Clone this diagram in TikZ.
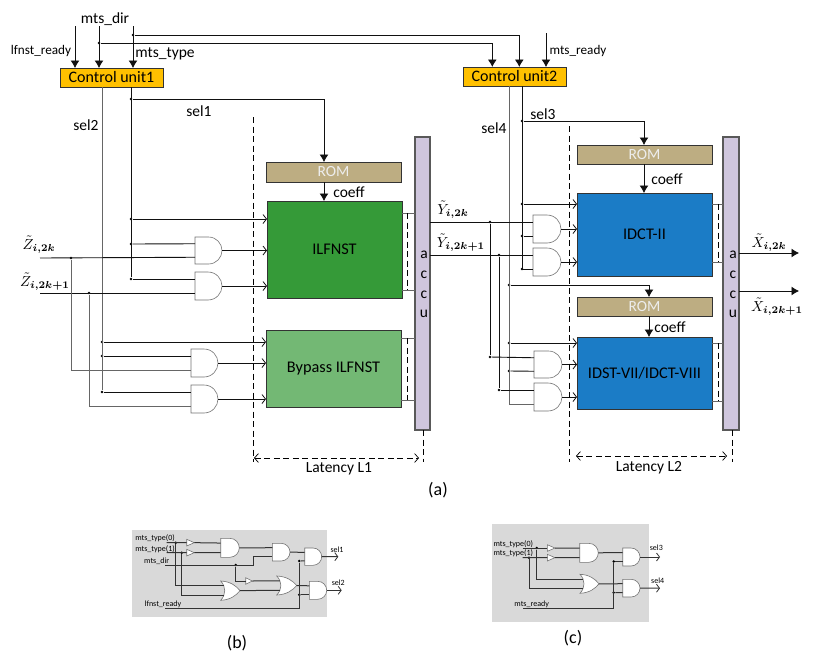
\documentclass[tikz,border=0pt]{standalone}
\usepackage{amsmath}
\usepackage{bm}
\usepackage{fontspec}
\setmainfont{Carlito}
\usetikzlibrary{arrows.meta,calc}
\definecolor{romfill}{HTML}{BDAD82}
\definecolor{cufill}{HTML}{FFC000}
\definecolor{accufill}{HTML}{CFC6DD}
\definecolor{ilffill}{HTML}{359A38}
\definecolor{bypfill}{HTML}{73B874}
\definecolor{dctfill}{HTML}{1B7CC6}
\definecolor{edge}{HTML}{333333}
\definecolor{wire}{HTML}{111111}
\definecolor{panel}{HTML}{D9D9D9}
\tikzset{
  sig/.style={draw=wire,line width=0.9pt},
  greysig/.style={draw=black!60,line width=0.9pt},
  solidtip/.style={sig,-{Latex[length=7.5pt,width=9pt]}},
  opentip/.style={sig,-{Straight Barb[length=3.5pt,width=9pt,line width=0.8pt]}},
  dashline/.style={draw=black,line width=0.7pt,dash pattern=on 6pt off 3.5pt},
  spanarrow/.style={dashline,{Straight Barb[length=4pt,width=9pt,line width=0.7pt,sep=0pt]}-{Straight Barb[length=4pt,width=9pt,line width=0.7pt]}},
  jdot/.style={circle,fill=black,inner sep=0pt,minimum size=2.8pt},
  corner/.style={draw=edge,line width=0.8pt,inner sep=0pt,outer sep=0pt,rectangle},
  unitbox/.style={corner,fill=cufill,font=\fontsize{16}{18}\selectfont},
  rombox/.style={corner,fill=romfill,text=white!93!black,font=\fontsize{15.5}{18}\selectfont},
  blockbox/.style={corner,font=\fontsize{16.3}{18}\selectfont},
  accubox/.style={draw=black!65,line width=1.1pt,fill=accufill,inner sep=0pt,outer sep=0pt,rectangle},
  gatebox/.style={rectangle,inner sep=0pt,outer sep=0pt},
  lab/.style={inner sep=0pt,font=\fontsize{15.5}{18}\selectfont},
  smalllab/.style={inner sep=0pt,font=\fontsize{13.2}{15}\selectfont},
  tinylab/.style={inner sep=0pt,font=\fontsize{8}{9}\selectfont},
  caplab/.style={inner sep=0pt,font=\fontsize{18}{20}\selectfont},
  mathlab/.style={inner sep=0pt,scale=1.45},
  gateline/.style={draw=black!55,line width=0.6pt,fill=white},
  fineline/.style={draw=black!80,line width=1pt},
  finetip/.style={fineline,-{Straight Barb[length=3pt,width=8pt,line width=0.8pt]}},
}
% AND gate: name, left, top, right, bottom; defines name-a, name-b and name-o
\newcommand{\andgate}[5]{%
  \node[gatebox,minimum width={(#4)-(#2)},minimum height={(#5)-(#3)}] (#1) at ({((#2)+(#4))/2},{((#3)+(#5))/2}) {};
  \draw[gateline] (#2,#3) -- ({(#4)-((#5)-(#3))/2},#3) .. controls ({(#4)-((#5)-(#3))/5},#3) and (#4,{(#3)+((#5)-(#3))/4}) .. (#4,{((#3)+(#5))/2}) .. controls (#4,{(#3)+3*((#5)-(#3))/4}) and ({(#4)-((#5)-(#3))/5},#5) .. ({(#4)-((#5)-(#3))/2},#5) -- (#2,#5) -- cycle;
  \coordinate (#1-a) at (#2,{(#3)+((#5)-(#3))/4});
  \coordinate (#1-b) at (#2,{(#3)+3*((#5)-(#3))/4});
  \coordinate (#1-o) at (#4,{((#3)+(#5))/2});
}
% OR gate: same arguments, with a curved back edge
\newcommand{\orgate}[5]{%
  \node[gatebox,minimum width={(#4)-(#2)},minimum height={(#5)-(#3)}] (#1) at ({((#2)+(#4))/2},{((#3)+(#5))/2}) {};
  \draw[gateline] (#2,#3) .. controls ({(#2)+0.5*((#4)-(#2))},{(#3)+0.02*((#5)-(#3))}) and ({(#2)+0.8*((#4)-(#2))},{(#3)+0.25*((#5)-(#3))}) .. (#4,{((#3)+(#5))/2}) .. controls ({(#2)+0.8*((#4)-(#2))},{(#3)+0.75*((#5)-(#3))}) and ({(#2)+0.5*((#4)-(#2))},{(#3)+0.98*((#5)-(#3))}) .. (#2,#5) .. controls ({(#2)+0.28*((#4)-(#2))},{(#3)+0.7*((#5)-(#3))}) and ({(#2)+0.28*((#4)-(#2))},{(#3)+0.3*((#5)-(#3))}) .. cycle;
  \coordinate (#1-a) at ({(#2)+0.16*((#4)-(#2))},{(#3)+((#5)-(#3))/4});
  \coordinate (#1-b) at ({(#2)+0.16*((#4)-(#2))},{(#3)+3*((#5)-(#3))/4});
  \coordinate (#1-o) at (#4,{((#3)+(#5))/2});
}
% Buffer triangle: name, left, top, right, bottom; defines name-i and name-o
\newcommand{\bufgate}[5]{%
  \node[gatebox,minimum width={(#4)-(#2)},minimum height={(#5)-(#3)}] (#1) at ({((#2)+(#4))/2},{((#3)+(#5))/2}) {};
  \draw[gateline] (#2,#3) -- (#4,{((#3)+(#5))/2}) -- (#2,#5) -- cycle;
  \coordinate (#1-i) at (#2,{((#3)+(#5))/2});
  \coordinate (#1-o) at (#4,{((#3)+(#5))/2});
}
% Box placed by its corners: style, name, left, top, right, bottom, text
\newcommand{\cornerbox}[7]{%
  \node[#1,minimum width={(#5)-(#3)},minimum height={(#6)-(#4)},align=center] (#2) at ({((#3)+(#5))/2},{((#4)+(#6))/2}) {#7};
}
\begin{document}
\begin{tikzpicture}[x=1pt,y=-1pt]
\useasboundingbox (0,0) rectangle (830,659);

% ---- control units, memories and transform blocks ----
\cornerbox{unitbox}{cuA}{60}{68}{163}{87}{Control unit1}
\cornerbox{unitbox}{cuB}{463}{67}{566}{86}{Control unit2}
\cornerbox{rombox}{romA}{266}{162}{401}{182}{ROM}
\cornerbox{rombox}{romB}{577}{145}{712}{164}{ROM}
\cornerbox{rombox}{romC}{577}{297}{712}{316}{ROM}
\cornerbox{blockbox,fill=ilffill}{ilf}{267}{201}{402}{298}{ILFNST}
\cornerbox{blockbox,fill=bypfill}{byp}{266}{330}{401}{407}{Bypass ILFNST}
\cornerbox{blockbox,fill=dctfill}{dct}{577}{193}{712}{276}{IDCT-II}
\cornerbox{blockbox,fill=dctfill}{dst}{577}{337}{712}{409}{IDST-VII/IDCT-VIII}
\cornerbox{accubox}{accA}{415}{137}{430}{430}{}
\cornerbox{accubox}{accB}{723}{137}{739}{430}{}
\foreach \ch/\yy in {a/255,c/275,c/295,u/314}{
  \node[lab] (accA\yy) at (424,\yy) {\ch};
  \node[lab] (accB\yy) at (733,\yy) {\ch};
}

% ---- AND gates in front of the blocks ----
\andgate{gA}{195}{237}{222}{264}
\andgate{gB}{195}{272}{222}{300}
\andgate{gC}{191}{349}{218}{377}
\andgate{gD}{191}{385}{218}{413}
\andgate{gE}{533}{215}{561}{243}
\andgate{gF}{533}{248}{561}{276}
\andgate{gG}{534}{351}{562}{378}
\andgate{gH}{534}{383}{562}{411}

% ---- junction points ----
\node[jdot] (jdir) at (99,43) {};
\node[jdot] (jtype) at (133,35) {};
\node[jdot] (jrom) at (131,99) {};
\node[jdot] (ja1) at (131,219) {};
\node[jdot] (ja2) at (131,244) {};
\node[jdot] (ja3) at (131,279) {};
\node[jdot] (jb1) at (102,342) {};
\node[jdot] (jb2) at (102,356) {};
\node[jdot] (jb3) at (102,392) {};
\node[jdot] (jz0) at (71,258) {};
\node[jdot] (jz1) at (89,293) {};
\node[jdot] (jc0) at (522,121) {};
\node[jdot] (jc1) at (522,204) {};
\node[jdot] (jc2) at (522,236) {};
\node[jdot] (jc3) at (522,269) {};
\node[jdot] (jd0) at (509,285) {};
\node[jdot] (jd1) at (509,343) {};
\node[jdot] (jd2) at (509,371) {};
\node[jdot] (jy0) at (490,222) {};
\node[jdot] (jy1) at (499,255) {};
\node[jdot] (jy2) at (490,357) {};
\node[jdot] (jy3) at (499,390) {};

% ---- free ends of signals ----
\coordinate (inrdy) at (75,26);
\coordinate (indir) at (99,26);
\coordinate (intype) at (133,26);
\coordinate (inmts) at (546,33);
\coordinate (inz0) at (40,258);
\coordinate (inz1) at (40,293);
\coordinate (outx0) at (799,253);
\coordinate (outx1) at (799,291);
\coordinate (cuBa) at (492.3,67);
\coordinate (cuBb) at (519.3,67);
\coordinate (romAin) at (324,162);
\coordinate (romAout) at (324,182);
\coordinate (ilfin) at (324,201);
\coordinate (romBin) at (644,145);
\coordinate (romBout) at (644,164);
\coordinate (dctin) at (644,193);
\coordinate (romCin) at (649,297);
\coordinate (romCout) at (649,316);
\coordinate (dstin) at (649,337);

% ---- inputs of the control units ----
\draw[solidtip] (inrdy) -- (inrdy |- cuA.north);
\draw[solidtip] (indir) -- (indir |- cuA.north);
\draw[solidtip] (intype) -- (intype |- cuA.north);
\draw[solidtip] (inmts) -- (inmts |- cuB.north);
\draw[solidtip] (jdir) -| (cuBa);
\draw[solidtip] (jtype) -| (cuBb);

% ---- select lines of the first stage ----
\draw[greysig] (jb3 |- cuA.south) -- (jb3);
\draw[sig] (jrom |- cuA.south) -- (ja3);
\draw[solidtip] (jrom) -| (romAin);
\draw[solidtip] (romAout) -- (ilfin);
\draw[opentip] (ja1) -- (ja1 -| ilf.west);
\draw[sig] (ja2) -- (gA-a);
\draw[sig] (ja3) -- (gB-a);
\draw[opentip] (jb1) -- (jb1 -| byp.west);
\draw[sig] (jb2) -- (gC-a);
\draw[sig] (jb3) -- (gD-a);
\draw[sig] (inz0) -- (gA-b);
\draw[sig] (inz1) -- (gB-b);
\draw[greysig] (jz0) |- (gC-b);
\draw[greysig] (jz1) |- (gD-b);
\draw[opentip] (gA-o) -- (gA-o -| ilf.west);
\draw[opentip] (gB-o) -- (gB-o -| ilf.west);
\draw[opentip] (gC-o) -- (gC-o -| byp.west);
\draw[opentip] (gD-o) -- (gD-o -| byp.west);

% ---- select lines of the second stage ----
\draw[greysig] (jd0 |- cuB.south) |- (gH-b);
\draw[sig] (jc0 |- cuB.south) |- (gF-b);
\draw[solidtip] (jc0) -| (romBin);
\draw[solidtip] (romBout) -- (dctin);
\draw[opentip] (jc1) -- (jc1 -| dct.west);
\draw[sig] (jc2) -- (gE-b);
\draw[solidtip] (jd0) -| (romCin);
\draw[solidtip] (romCout) -- (dstin);
\draw[opentip] (jd1) -- (jd1 -| dst.west);
\draw[sig] (jd2) -- (gG-b);
\draw[sig] (accA.east |- gE-a) -- (gE-a);
\draw[sig] (accA.east |- gF-a) -- (gF-a);
\draw[sig] (jy0) -- (jy2);
\draw[sig] (jy1) -- (jy3);
\draw[sig] (jy2) -- (gG-a);
\draw[sig] (jy3) -- (gH-a);
\draw[opentip] (gE-o) -- (gE-o -| dct.west);
\draw[opentip] (gF-o) -- (gF-o -| dct.west);
\draw[opentip] (gG-o) -- (gG-o -| dst.west);
\draw[opentip] (gH-o) -- (gH-o -| dst.west);

% ---- block outputs into the accumulators ----
\foreach \blk/\acc/\ya/\yb/\xd in {ilf/accA/213/290/407, byp/accA/338/400/407, dct/accB/204/262/718, dst/accB/343/401/718}{
  \draw[greysig] (\blk.east |- 0,\ya) -- (\acc.west |- 0,\ya);
  \draw[greysig] (\blk.east |- 0,\yb) -- (\acc.west |- 0,\yb);
  \draw[dashline] (\xd,\ya) -- (\xd,\yb);
}
\draw[solidtip] (accB.east |- outx0) -- (outx0);
\draw[solidtip] (accB.east |- outx1) -- (outx1);

% ---- latency brackets ----
\coordinate (latA) at (253,117);
\coordinate (latB) at (569,126);
\coordinate (latC) at (423,430);
\coordinate (latD) at (732,430);
\draw[dashline] (latA) -- (253,462);
\draw[dashline] (latC) -- (423,462);
\draw[dashline] (latB) -- (569,462);
\draw[dashline] (latD) -- (732,462);
\draw[spanarrow] (254,458) -- (419,458);
\draw[spanarrow] (576,456) -- (727,456);

% ---- labels ----
\node[lab] (lDir) at (105,19) {mts\_dir};
\node[smalllab] (lRdy) at (41,51) {lfnst\_ready};
\node[lab] (lType) at (165,54) {mts\_type};
\node[smalllab] (lMts) at (578,51) {mts\_ready};
\node[lab] (s1) at (199,111) {sel1};
\node[lab] (s2) at (86,125) {sel2};
\node[lab] (s3) at (543,114) {sel3};
\node[lab] (s4) at (494,128) {sel4};
\node[lab] (cfA) at (349,192) {coeff};
\node[lab] (cfB) at (667,179) {coeff};
\node[lab] (cfC) at (670,327) {coeff};
\node[lab] (lat1) at (339,469) {Latency L1};
\node[lab] (lat2) at (649,468) {Latency L2};
\node[caplab] (capA) at (438,490) {(a)};
\node[mathlab] (zA) at (39,245) {$\tilde{Z}_{\bm{i,2k}}$};
\node[mathlab] (zB) at (45,282) {$\tilde{Z}_{\bm{i,2k+1}}$};
\node[mathlab] (yA) at (453,210) {$\tilde{Y}_{\bm{i,2k}}$};
\node[mathlab] (yB) at (461,243) {$\tilde{Y}_{\bm{i,2k+1}}$};
\node[mathlab] (xA) at (769,243) {$\tilde{X}_{\bm{i,2k}}$};
\node[mathlab] (xB) at (777,307) {$\tilde{X}_{\bm{i,2k+1}}$};

% ---- sub-circuit of control unit 1 ----
\fill[panel] (132,530) rectangle (327,617);
\bufgate{pbA}{186.7}{539.3}{194.3}{546}
\bufgate{pbB}{186.7}{549.3}{194.3}{556}
\bufgate{pbC}{245.7}{577.7}{252.3}{584.3}
\andgate{pbD}{220.7}{538.3}{239.3}{557.3}
\andgate{pbE}{272.3}{543.3}{290}{561}
\andgate{pbF}{304.7}{548}{321.7}{565.3}
\andgate{pbG}{309.3}{581.3}{326.7}{599.3}
\orgate{pbH}{220.7}{581}{240}{600.3}
\orgate{pbI}{276.7}{576}{296.7}{595}
\node[jdot] (pbj0) at (175.7,542.7) {};
\node[jdot] (pbj1) at (181.7,552.7) {};
\node[jdot] (pbj2) at (235.7,565) {};
\node[jdot] (pbj3) at (299.3,561) {};
\node[jdot] (pbj4) at (299.3,594.8) {};
\coordinate (pbt0) at (166.7,542.7);
\coordinate (pbt1) at (166.7,552.7);
\coordinate (pbdir) at (165,565);
\coordinate (pbrdy) at (165,608);
\coordinate (pbturn) at (253.3,565);
\coordinate (pbo0) at (338.3,556.7);
\coordinate (pbo1) at (341.7,590.3);
\draw[fineline] (pbt0) -- (pbA-i);
\draw[fineline] (pbt1) -- (pbB-i);
\draw[fineline] (pbA-o) -- (pbD-a);
\draw[fineline] (pbB-o) -- (pbD-b);
\draw[fineline] (pbD-o) -- (pbE-a);
\draw[fineline] (pbE-o) -- (pbF-a);
\draw[fineline] (pbdir) -- (pbturn) |- (pbE-b);
\draw[fineline] (pbj2) |- (pbC-i);
\draw[fineline] (pbC-o) -- (pbI-a);
\draw[fineline] (pbj0) |- (pbH-a);
\draw[fineline] (pbj1) |- (pbH-b);
\draw[fineline] (pbH-o) -- (pbI-b);
\draw[fineline] (pbI-o) -- (pbG-a);
\draw[fineline] (pbrdy) -| (pbj3);
\draw[fineline] (pbj3) -- (pbF-b);
\draw[fineline] (pbj4) -- (pbG-b);
\draw[finetip] (pbF-o) -- (pbo0);
\draw[finetip] (pbG-o) -- (pbo1);
\node[tinylab] (pbl0) at (155,538.3) {mts\_type(0)};
\node[tinylab] (pbl1) at (155,549.3) {mts\_type(1)};
\node[tinylab] (pbl2) at (156.7,561.3) {mts\_dir};
\node[tinylab] (pbl3) at (163,604.3) {lfnst\_ready};
\node[tinylab] (pbl4) at (337,550) {sel1};
\node[tinylab] (pbl5) at (338.3,582.7) {sel2};
\node[caplab] (capB) at (237,643) {(b)};

% ---- sub-circuit of control unit 2 ----
\fill[panel] (491.7,524) rectangle (649,621.7);
\bufgate{pcA}{547.3}{544.7}{555}{551.3}
\bufgate{pcB}{547.3}{554.3}{555}{561}
\andgate{pcC}{579.7}{543.3}{598.3}{562.3}
\andgate{pcD}{622.7}{548}{640}{566}
\andgate{pcE}{622.7}{579.3}{640}{597}
\orgate{pcF}{580}{574.3}{599}{593.3}
\node[jdot] (pcj0) at (536.7,548) {};
\node[jdot] (pcj1) at (529,557.7) {};
\node[jdot] (pcj2) at (613.7,561.5) {};
\node[jdot] (pcj3) at (613.7,592.6) {};
\coordinate (pct0) at (522.7,548);
\coordinate (pct1) at (522.7,557.7);
\coordinate (pcrdy) at (523.3,608.7);
\coordinate (pco0) at (660,557);
\coordinate (pco1) at (660,588.2);
\draw[fineline] (pct0) -- (pcA-i);
\draw[fineline] (pct1) -- (pcB-i);
\draw[fineline] (pcA-o) -- (pcC-a);
\draw[fineline] (pcB-o) -- (pcC-b);
\draw[fineline] (pcC-o) -- (pcD-a);
\draw[fineline] (pcj0) |- (pcF-a);
\draw[fineline] (pcj1) |- (pcF-b);
\draw[fineline] (pcF-o) -- (pcE-a);
\draw[fineline] (pcrdy) -| (pcj2);
\draw[fineline] (pcj2) -- (pcD-b);
\draw[fineline] (pcj3) -- (pcE-b);
\draw[finetip] (pcD-o) -- (pco0);
\draw[finetip] (pcE-o) -- (pco1);
\node[tinylab] (pcl0) at (513.3,544) {mts\_type(0)};
\node[tinylab] (pcl1) at (513.3,553.7) {mts\_type(1)};
\node[tinylab] (pcl2) at (531.7,604) {mts\_ready};
\node[tinylab] (pcl3) at (656.3,548) {sel3};
\node[tinylab] (pcl4) at (657.7,580.7) {sel4};
\node[caplab] (capC) at (573,638) {(c)};
\end{tikzpicture}
\end{document}
